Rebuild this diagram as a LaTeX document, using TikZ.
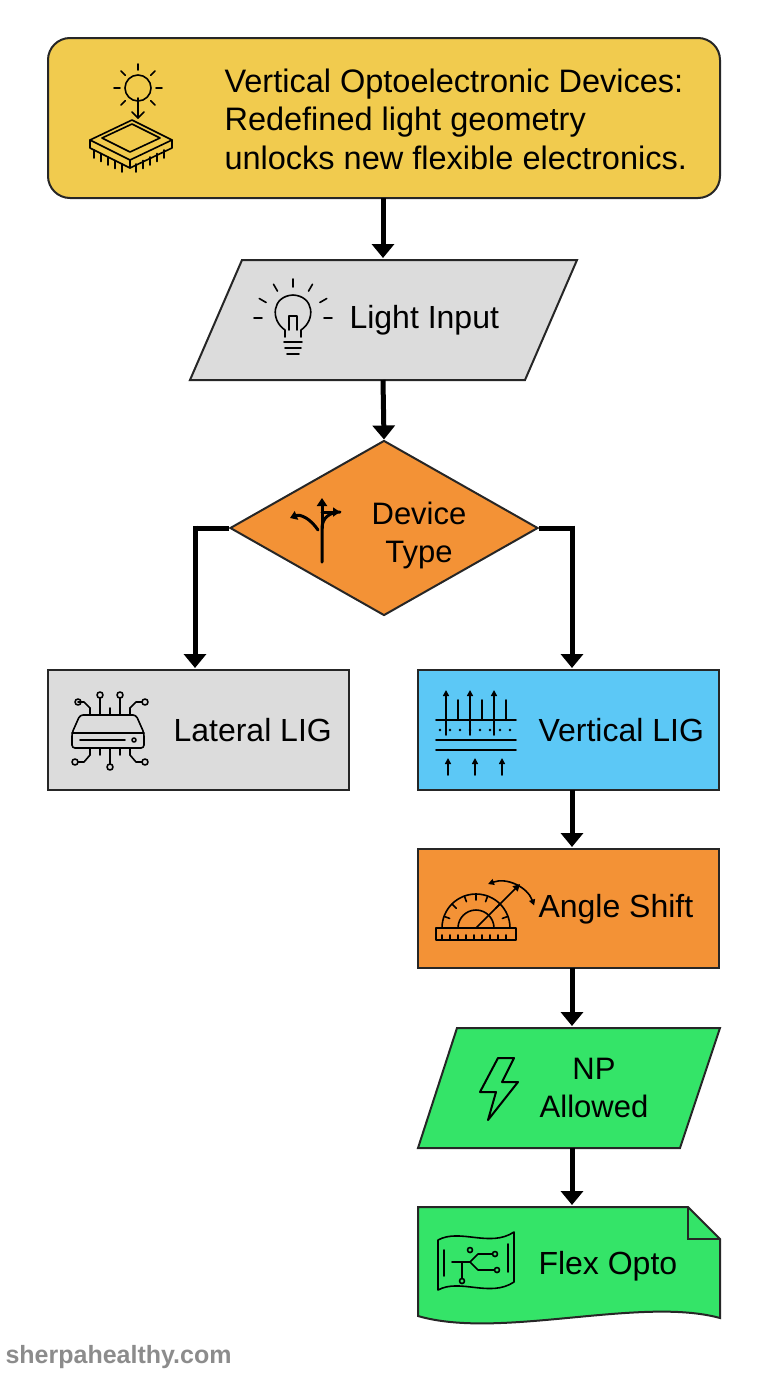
\documentclass[tikz,border=0pt]{standalone}
\usepackage{fontspec}
\setmainfont{Liberation Sans}
\usetikzlibrary{arrows.meta,shapes.geometric}
\definecolor{cyel}{HTML}{F1CB4E}
\definecolor{cgray}{HTML}{DCDCDC}
\definecolor{corg}{HTML}{F39236}
\definecolor{cblue}{HTML}{5CC8F6}
\definecolor{cgrn}{HTML}{34E468}
\tikzset{
 box/.style={draw=black!85,line width=2pt},
 arr/.style={line width=5pt,-{Triangle[length=14pt,width=22pt]}},
 conn/.style={line width=5pt},
 lbl/.style={font=\fontsize{32}{38}\selectfont,align=center},
 ico/.style={line width=1.6pt,line cap=round,line join=round}
}
\begin{document}
\begin{tikzpicture}[x=1pt,y=-1pt]
\useasboundingbox (0,0) rectangle (768,1376);
% title
\draw[box,fill=cyel,rounded corners=22pt] (48,38) rectangle (720,198);
\node[lbl,align=left,anchor=west,font=\fontsize{32.5}{38.5}\selectfont] (title) at (221,119) {Vertical Optoelectronic Devices:\\Redefined light geometry\\unlocks new flexible electronics.};
\coordinate (tb) at (383,198);
% sun chip icon
\begin{scope}[ico]
\draw (138,88) circle (13);
\foreach \a in {0,45,...,315}{\draw (138,88)++(\a:18) -- ++(\a:6);}
\draw (138,98) -- (138,118); \draw (132,112)--(138,118)--(144,112);
\draw (90,140)--(132,120)--(172,140)--(130,160)--cycle;
\draw (90,140)--(90,148)--(130,168)--(172,148)--(172,140);
\draw (130,160)--(130,168);
\draw (102,138)--(132,124)--(160,138)--(130,152)--cycle;
\foreach \i in {0,...,4}{\draw (94+\i*7,150+\i*3.5)--(94+\i*7,158+\i*3.5);\draw (136+\i*7,164-\i*3.5)--(136+\i*7,172-\i*3.5);}
\end{scope}
% light input
\draw[box,fill=cgray] (242,260) -- (577,260) -- (525,380) -- (190,380) -- cycle;
\node[lbl,anchor=west] (li) at (346,320) {Light Input};
\begin{scope}[ico]
\draw (285,337) -- (285,330) .. controls (270,320) and (272,296) .. (293,295) .. controls (314,296) and (316,320) .. (301,330) -- (301,337);
\draw (284,342)--(302,342); \draw (285,348)--(301,348); \draw (287,354)--(299,354);
\foreach \a in {-180,-150,-120,-90,-60,-30,0}{\draw (293,318)++(\a:31)--++(\a:8);}
\draw (289,330)--(289,316)--(297,316)--(297,330);
\end{scope}
% diamond
\node[diamond,box,fill=corg,minimum width=308pt,minimum height=175pt,inner sep=0] (dt) at (384,528) {};
\node[lbl,font=\fontsize{31}{38}\selectfont] at (419,535) {Device\\Type};
\begin{scope}[ico,line width=3pt]
\draw (322,562)--(322,528) .. controls (322,518) and (330,512) .. (340,512);
\draw[-{Triangle[length=7pt,width=9pt]}] (322,512)--(340,512);
\draw[-{Triangle[length=8pt,width=10pt]}] (322,528)--(322,498);
\draw[-{Triangle[length=7pt,width=9pt]}] (318,530) .. controls (310,518) and (300,514) .. (290,518);
\end{scope}
% lateral / vertical
\draw[box,fill=cgray] (48,670) rectangle (349,790);
\node[lbl,anchor=west] (lat) at (170,730) {Lateral LIG};
\coordinate (latt) at (195,668);
\begin{scope}[ico]
\draw[rounded corners=3pt] (72,733) -- (80,715) -- (136,715) -- (144,733) -- (144,748) -- (72,748) -- cycle;
\draw (72,733)--(144,733); \draw (80,740)--(125,740); \draw (134,740) circle (2);
\foreach \x in {90,100,110,120,130}{\draw (\x,715)--(\x,708);\draw (\x,748)--(\x,755);}
\draw (90,708)--(84,702)--(78,702); \draw (78,702) circle (3);
\draw (100,708)--(100,698); \draw (100,695) circle (3);
\draw (120,708)--(120,698); \draw (120,695) circle (3);
\draw (130,708)--(136,702)--(142,702); \draw (145,702) circle (3);
\draw (90,755)--(84,762)--(78,762); \draw (75,762) circle (3);
\draw (110,755)--(110,764); \draw (110,767) circle (3);
\draw (130,755)--(136,762)--(142,762); \draw (145,762) circle (3);
\end{scope}
\draw[box,fill=cblue] (418,670) rectangle (719,790);
\node[lbl,anchor=west] (vert) at (535,730) {Vertical LIG};
\begin{scope}[ico]
\draw (436,720)--(516,720); \draw (436,740)--(516,740); \draw (436,750)--(516,750);
\foreach \x in {440,450,...,510}{\fill (\x,730) circle (1.3);}
\foreach \x in {446,470,494}{\draw[-{Triangle[length=6pt,width=6pt]}] (\x,735)--(\x,690);}
\foreach \x in {458,482,506}{\draw (\x,720)--(\x,700);}
\foreach \x in {448,475,502}{\draw[-{Triangle[length=6pt,width=6pt]}] (\x,775)--(\x,758);}
\end{scope}
% angle shift
\draw[box,fill=corg] (418,849) rectangle (719,968);
\node[lbl,anchor=west] (ang) at (535,909) {Angle Shift};
\begin{scope}[ico]
\draw (436,940) rectangle (516,928);
\foreach \x in {442,450,...,512}{\draw (\x,940)--(\x,935);}
\draw (442,928) arc (180:360:34);
\draw (458,928) arc (180:360:18);
\foreach \a in {20,45,70,90,110,135,160}{\draw (476,928)++(-\a:34)--++(-\a:-6);}
\draw[-{Triangle[length=7pt,width=7pt]}] (476,928)--(520,884);
\draw[{Triangle[length=6pt,width=6pt]}-{Triangle[length=6pt,width=6pt]}] (488,884) arc (-110:-20:36);
\end{scope}
% NP allowed
\draw[box,fill=cgrn] (457,1028) -- (720,1028) -- (680,1148) -- (418,1148) -- cycle;
\node[lbl,font=\fontsize{31}{38}\selectfont] (np) at (594,1088) {NP\\Allowed};
\draw[ico,line width=2pt] (498,1058)--(480,1092)--(496,1092)--(488,1120)--(518,1082)--(502,1082)--(514,1058)--cycle;
% flex opto
\draw[box,fill=cgrn] (418,1207) -- (688,1207) -- (720,1239) -- (720,1318) .. controls (640,1296) and (500,1340) .. (418,1316) -- cycle;
\draw[box] (688,1207) -- (688,1239) -- (720,1239);
\node[lbl,anchor=west] (flex) at (535,1266) {Flex Opto};
\begin{scope}[ico]
\draw (438,1240) .. controls (460,1228) and (490,1248) .. (514,1232) -- (514,1282) .. controls (490,1298) and (460,1278) .. (438,1290) -- cycle;
\draw (444,1250)--(444,1276); \draw (508,1244)--(508,1272);
\draw (452,1262)--(470,1262)--(478,1254)--(492,1254); \draw (495,1254) circle (2.5);
\draw (470,1262)--(478,1270)--(494,1270); \draw (497,1270) circle (2.5);
\draw (462,1262)--(462,1278); \draw (462,1281) circle (2.5);
\draw (470,1250) circle (2.5);
\end{scope}
% connectors
\draw[arr] (tb) -- (383,258);
\draw[arr] (383,380) -- (dt.north);
\draw[conn] (dt.west) -- (195,528);
\draw[arr] (195,525.5) -- (latt);
\draw[conn] (dt.east) -- (572,528);
\draw[arr] (572,525.5) -- (572,668);
\draw[arr] (572,790) -- (572,847);
\draw[arr] (572,968) -- (572,1026);
\draw[arr] (572,1148) -- (572,1205);
% watermark
\node[anchor=west,font=\bfseries\fontsize{25}{30}\selectfont,text=black!45] (wm) at (2,1357) {sherpahealthy.com};
\end{tikzpicture}
\end{document}
